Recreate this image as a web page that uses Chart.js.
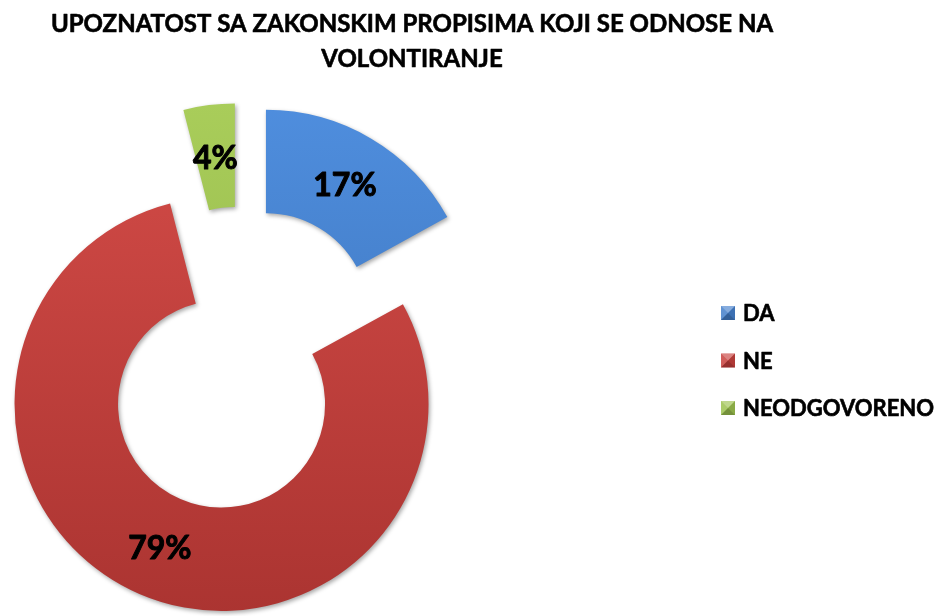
<!DOCTYPE html>
<html>
<head>
<meta charset="utf-8">
<script src="https://cdn.jsdelivr.net/npm/chart.js@4.4.1/dist/chart.umd.min.js"></script>
<style>
  html, body { margin: 0; padding: 0; background: #fff; }
  #wrap { width: 939px; height: 616px; position: relative; }
</style>
</head>
<body>
<div id="wrap"><canvas id="chart"></canvas></div>
<script>
// data
const titleLines = ['UPOZNATOST SA ZAKONSKIM PROPISIMA KOJI SE ODNOSE NA', 'VOLONTIRANJE'];
const categories = ['DA', 'NE', 'NEODGOVORENO'];
const percents = [17, 79, 4];

const baseColors = ['#4580cc', '#c8413e', '#9dc24f'];
const topColors = ['#4f8ede', '#d44c48', '#a9cd5a'];
const bottomColors = ['#376cb0', '#ab3431', '#8cae44'];

const FONT = 'Lato, "Open Sans", sans-serif';
const EXPLODE = 49;

// bold text drawn a touch heavier, closer to the Calibri bold of the original
function heavyText(ctx, text, x, y, w) {
  ctx.lineWidth = w;
  ctx.strokeStyle = '#000';
  ctx.lineJoin = 'round';
  ctx.strokeText(text, x, y);
  ctx.fillText(text, x, y);
}

// push every slice outward along its middle angle (Excel style exploded doughnut)
const explodePlugin = {
  id: 'explode',
  afterDatasetUpdate(chart, args) {
    args.meta.data.forEach((arc) => {
      const mid = (arc.startAngle + arc.endAngle) / 2;
      arc.x += Math.cos(mid) * EXPLODE;
      arc.y += Math.sin(mid) * EXPLODE;
    });
  },
  beforeDatasetsDraw(chart) {
    const ctx = chart.ctx;
    ctx.save();
    ctx.shadowColor = 'rgba(0,0,0,0.35)';
    ctx.shadowBlur = 4;
    ctx.shadowOffsetX = 1.5;
    ctx.shadowOffsetY = 2;
  },
  afterDatasetsDraw(chart) {
    const ctx = chart.ctx;
    ctx.restore();
    // percent labels in the middle of every slice
    const meta = chart.getDatasetMeta(0);
    const total = percents.reduce((a, b) => a + b, 0);
    ctx.save();
    ctx.font = 'bold 32px ' + FONT;
    ctx.fillStyle = '#000';
    ctx.textAlign = 'center';
    ctx.textBaseline = 'middle';
    meta.data.forEach((arc, i) => {
      const p = arc.tooltipPosition();
      heavyText(ctx, Math.round(percents[i] / total * 100) + '%', p.x, p.y + 2, 1);
    });
    ctx.restore();
  },
  afterDraw(chart) {
    const ctx = chart.ctx;
    ctx.save();
    // title
    ctx.font = 'bold 24px ' + FONT;
    ctx.fillStyle = '#000';
    ctx.textAlign = 'center';
    ctx.textBaseline = 'middle';
    titleLines.forEach((line, i) => heavyText(ctx, line, 412, 24 + i * 35, 0.6));
    // legend with bevelled squares
    ctx.font = 'bold 22px ' + FONT;
    ctx.textAlign = 'left';
    categories.forEach((name, i) => {
      const y = 313 + i * 47.5;
      const x = 721, s = 14;
      ctx.fillStyle = baseColors[i];
      ctx.fillRect(x, y - s / 2, s, s);
      const cx = x + s / 2, cy = y;
      const tri = (ax, ay, bx, by, col) => {
        ctx.beginPath();
        ctx.moveTo(ax, ay); ctx.lineTo(bx, by); ctx.lineTo(cx, cy); ctx.closePath();
        ctx.fillStyle = col; ctx.fill();
      };
      tri(x, y - s / 2, x + s, y - s / 2, 'rgba(255,255,255,0.35)');
      tri(x, y - s / 2, x, y + s / 2, 'rgba(255,255,255,0.15)');
      tri(x, y + s / 2, x + s, y + s / 2, 'rgba(0,0,0,0.25)');
      tri(x + s, y - s / 2, x + s, y + s / 2, 'rgba(0,0,0,0.12)');
      ctx.fillStyle = '#000';
      heavyText(ctx, name, 743, y + 1, 0.6);
    });
    ctx.restore();
  }
};

const ctx = document.getElementById('chart');
new Chart(ctx, {
  type: 'doughnut',
  data: {
    labels: categories,
    datasets: [{
      data: percents,
      backgroundColor: (c) => {
        const g = c.chart.ctx.createLinearGradient(0, 100, 0, 616);
        g.addColorStop(0, topColors[c.dataIndex]);
        g.addColorStop(1, bottomColors[c.dataIndex]);
        return g;
      },
      borderWidth: 0,
      hoverOffset: 0,
      clip: false,
    }],
  },
  options: {
    responsive: true,
    maintainAspectRatio: false,
    animation: false,
    radius: 207,
    cutout: '50%',
    layout: {
      padding: { left: 0, right: 457, top: 102, bottom: 0 },
    },
    plugins: {
      legend: { display: false },
      title: { display: false },
      tooltip: { enabled: false },
    },
  },
  plugins: [explodePlugin],
});
</script>
</body>
</html>
